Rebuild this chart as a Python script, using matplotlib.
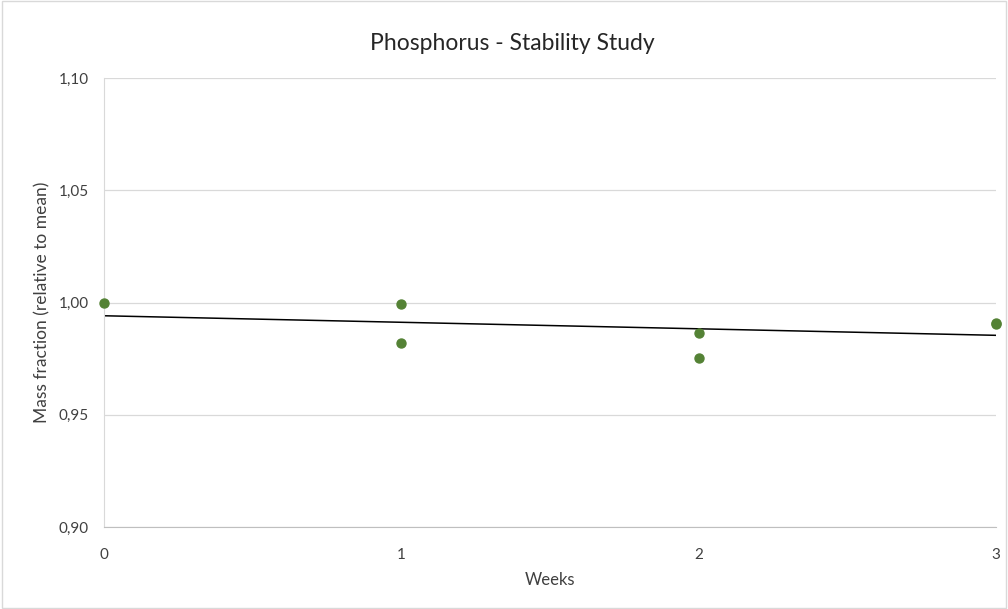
import numpy as np
import matplotlib.pyplot as plt
from matplotlib.patches import Rectangle

# data
weeks = [0, 1, 1, 2, 2, 3, 3]
mass_fraction = [1.0000, 0.9992, 0.9819, 0.9863, 0.9751, 0.9903, 0.9910]
x_ticks = [0, 1, 2, 3]
y_ticks = [0.90, 0.95, 1.00, 1.05, 1.10]

plt.rcParams['font.family'] = ['Lato', 'DejaVu Sans']

fig = plt.figure(figsize=(10.08, 6.09), dpi=100)
ax = fig.add_axes([104 / 1008, 1 - 527 / 609, (996 - 104) / 1008, (527 - 78) / 609])

# chart border
fig.patches.append(Rectangle((0.002, 0.002), 0.996, 0.996, transform=fig.transFigure,
                             fill=False, edgecolor='#d9d9d9', linewidth=1))

ax.scatter(weeks, mass_fraction, s=42, color='#548235', zorder=3, clip_on=False)

# linear trend line
slope, intercept = np.polyfit(weeks, mass_fraction, 1)
xs = np.array([0, 3])
ax.plot(xs, slope * xs + intercept, color='black', linewidth=1.1, zorder=2)

ax.set_xlim(0, 3)
ax.set_ylim(0.90, 1.10)
ax.set_xticks(x_ticks)
ax.set_xticklabels([str(t) for t in x_ticks])
ax.set_yticks(y_ticks)
ax.set_yticklabels([f'{t:.2f}'.replace('.', ',') for t in y_ticks])
ax.tick_params(length=0, labelsize=11, colors='#404040')
ax.tick_params(axis='x', pad=15)
ax.tick_params(axis='y', pad=11)
ax.grid(axis='y', color='#d9d9d9', linewidth=0.9)
ax.set_axisbelow(True)

for side in ['top', 'right']:
    ax.spines[side].set_visible(False)
ax.spines['left'].set_color('#d9d9d9')
ax.spines['bottom'].set_color('#bfbfbf')

# title is centred on the whole chart, not the plot area
fig.text(0.508, 1 - 50 / 609, 'Phosphorus - Stability Study', fontsize=16.5,
         color='#262626', ha='center', va='baseline')
ax.set_xlabel('Weeks', fontsize=12, color='#404040', labelpad=7)
ax.set_ylabel('Mass fraction (relative to mean)', fontsize=12.5, color='#404040', labelpad=6)

fig.savefig('out.png', dpi=100)
